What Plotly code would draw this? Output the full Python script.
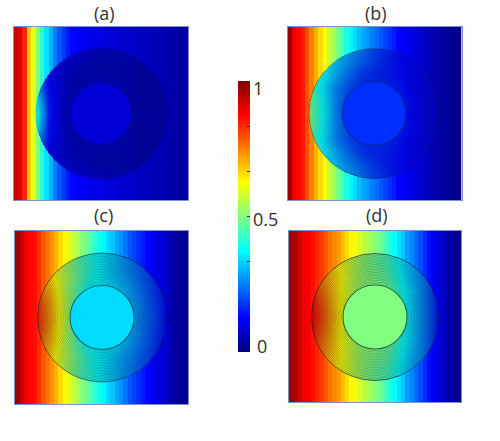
import numpy as np
import plotly.graph_objects as go
from plotly.colors import sample_colorscale

W, H = 500, 441
JET = [[0, "#00007f"], [0.125, "#0000ff"], [0.375, "#00ffff"],
       [0.625, "#ffff00"], [0.875, "#ff0000"], [1, "#7f0000"]]

# Outside field: 40 equal-width vertical bands, left to right
outer_a = [.93,.90,.84,.68,.60,.50,.42,.35,.30,.25,.21,.18,.15,.13,.125,.12,.115,.11,.105,.10,
           .095,.09,.09,.085,.08,.08,.075,.07,.07,.065,.06,.06,.055,.05,.05,.045,.04,.04,.03,.03]
outer_b = [.97,.89,.87,.85,.80,.75,.70,.66,.62,.57,.54,.49,.45,.40,.37,.34,.31,.29,.27,.25,
           .23,.21,.19,.17,.15,.13,.12,.11,.10,.09,.08,.07,.06,.05,.04,.03,.03,.02,.01,.01]
outer_c = [.97,.93,.89,.87,.86,.83,.79,.76,.73,.70,.66,.63,.60,.57,.54,.51,.48,.45,.42,.39,
           .37,.34,.32,.29,.27,.24,.21,.19,.17,.15,.13,.115,.10,.09,.08,.06,.04,.03,.02,.01]
outer_d = [.97,.95,.92,.89,.88,.86,.84,.82,.79,.76,.74,.72,.69,.66,.63,.61,.59,.56,.54,.52,
           .50,.47,.44,.41,.38,.35,.32,.28,.26,.23,.20,.17,.14,.12,.10,.08,.06,.04,.02,.01]

# Ring field: rows from the horizontal centre line outwards, columns left to right across the disc
ring_a = [[.42,.15,.08,.05,.07,.08,.07,.05,.04,.04,.04],
          [.38,.14,.08,.05,.07,.08,.07,.05,.04,.04,.04],
          [.30,.13,.08,.05,.06,.07,.06,.05,.04,.04,.04],
          [.20,.12,.08,.06,.05,.05,.05,.05,.04,.04,.04],
          [.15,.12,.09,.07,.06,.05,.05,.05,.04,.04,.04],
          [.12,.12,.10,.09,.08,.07,.06,.05,.05,.04,.04]]
ring_b = [[.50,.38,.26,.19,.17,.17,.17,.15,.12,.09,.07],
          [.49,.37,.26,.19,.17,.17,.17,.15,.12,.09,.07],
          [.46,.36,.26,.20,.17,.17,.16,.14,.11,.09,.07],
          [.43,.37,.30,.23,.18,.16,.15,.13,.11,.09,.07],
          [.40,.36,.32,.27,.22,.18,.15,.13,.11,.09,.07],
          [.37,.34,.31,.28,.24,.19,.16,.13,.11,.09,.08]]
ring_c = [[.84,.72,.58,.44,.36,.36,.36,.32,.25,.20,.13],
          [.83,.71,.58,.45,.36,.36,.36,.31,.25,.19,.13],
          [.79,.69,.57,.46,.37,.36,.35,.29,.24,.18,.13],
          [.74,.66,.57,.48,.40,.36,.32,.27,.22,.17,.13],
          [.69,.63,.56,.48,.41,.36,.31,.26,.21,.17,.13],
          [.63,.58,.52,.46,.41,.36,.31,.26,.21,.17,.14]]
ring_d = [[.88,.78,.66,.57,.50,.50,.50,.42,.33,.24,.14],
          [.87,.77,.65,.57,.50,.50,.50,.41,.32,.24,.14],
          [.84,.75,.65,.57,.51,.50,.48,.40,.32,.23,.14],
          [.80,.73,.65,.58,.52,.50,.46,.38,.30,.23,.15],
          [.75,.70,.64,.58,.52,.48,.44,.37,.29,.23,.16],
          [.70,.66,.62,.57,.52,.48,.43,.36,.29,.24,.17]]

disk_values = [.085, .17, .34, .50]
panel_labels = ["(a)", "(b)", "(c)", "(d)"]
colorbar_ticks = [0, 1/6, 2/6, 3/6, 4/6, 5/6, 1]

# Layout in page pixels
boxes = [(13.5, 26.5, 188, 200), (287.5, 26.5, 461.5, 200), (15, 231, 188, 404), (289, 231, 461, 402)]
centres = [(101, 113.5, 65.5, 30.5), (374, 113.5, 65, 32), (102, 317.5, 64.5, 32), (375, 317, 63.5, 32)]
label_pos = [(104, 13), (376, 13), (103, 215), (377, 215)]
line_alpha = [.03, .20, .30, .32]
edge_alpha = [.10, .40, .60, .65]
shade_alpha = [.14, .08, .10, .10]
line_counts = [10, 20, 20, 20]

outers = [outer_a, outer_b, outer_c, outer_d]
rings = [ring_a, ring_b, ring_c, ring_d]

fig = go.Figure()
shapes, annos = [], []
for i in range(4):
    x0, y0, x1, y1 = boxes[i]
    cx, cy, R, r = centres[i]
    sfx = "" if i == 0 else str(i + 1)
    xa, ya = "x" + sfx, "y" + sfx
    layout_ax = dict(visible=True, showgrid=False, zeroline=False, showticklabels=False, ticks="",
                     showline=True, linecolor="#7f8fc8", linewidth=1, mirror=True)
    fig.update_layout({
        "xaxis" + sfx: dict(domain=[x0 / W, x1 / W], range=[x0, x1], anchor=ya, **layout_ax),
        "yaxis" + sfx: dict(domain=[1 - y1 / H, 1 - y0 / H], range=[y1, y0], anchor=xa, **layout_ax),
    })
    # ring field below, smoothed by plotly
    half = rings[i]
    z_ring = half[:0:-1] + half
    step = 0.2 * R
    xs = [cx - R + k * step for k in range(11)]
    ys = [cy - R + k * step for k in range(11)]
    fig.add_trace(go.Heatmap(x=xs, y=ys, z=z_ring, coloraxis="coloraxis", zsmooth="best",
                             xaxis=xa, yaxis=ya, hoverinfo="skip"))
    # outside bands on top with the disc left open
    px = np.arange(x0 + 0.25, x1, 0.5)
    py = np.arange(y0 + 0.25, y1, 0.5)
    band = np.minimum(((px - x0) / (x1 - x0) * 40).astype(int), 39)
    row = np.array(outers[i])[band]
    XX, YY = np.meshgrid(px, py)
    z_out = np.tile(row, (len(py), 1))
    z_out[(XX - cx) ** 2 + (YY - cy) ** 2 < R ** 2] = np.nan
    fig.add_trace(go.Heatmap(x=px, y=py, z=z_out, coloraxis="coloraxis", xaxis=xa, yaxis=ya,
                             hoverinfo="skip"))
    # dimmed ring, concentric contour lines, flat disc
    shapes.append(dict(type="circle", xref=xa, yref=ya, x0=cx - R, x1=cx + R, y0=cy - R, y1=cy + R,
                       fillcolor=f"rgba(10,20,40,{shade_alpha[i]})",
                       line=dict(color=f"rgba(10,20,40,{edge_alpha[i]})", width=1)))
    n = line_counts[i]
    for k in range(1, n):
        rr = r + (R - r) * k / n
        shapes.append(dict(type="circle", xref=xa, yref=ya, x0=cx - rr, x1=cx + rr, y0=cy - rr, y1=cy + rr,
                           line=dict(color=f"rgba(10,20,30,{line_alpha[i]})", width=0.7)))
    disk_col = sample_colorscale(JET, [disk_values[i]])[0]
    shapes.append(dict(type="circle", xref=xa, yref=ya, x0=cx - r, x1=cx + r, y0=cy - r, y1=cy + r,
                       fillcolor=disk_col,
                       line=dict(color=f"rgba(10,30,30,{edge_alpha[i]})", width=1.2)))
    lx, ly = label_pos[i]
    annos.append(dict(text=panel_labels[i], x=lx / W, y=1 - ly / H, xref="paper", yref="paper",
                      showarrow=False, xanchor="center", yanchor="middle",
                      font=dict(family="Open Sans", size=18, color="#333333")))

for txt, lx, ly, size in [("1", 258, 88, 18), ("0.5", 265, 219, 18), ("0", 262, 346, 18)]:
    annos.append(dict(text=txt, x=lx / W, y=1 - ly / H, xref="paper", yref="paper", showarrow=False,
                      xanchor="center", yanchor="middle",
                      font=dict(family="Open Sans", size=size, color="#2f2f2f")))

fig.update_layout(
    width=W, height=H, margin=dict(l=0, r=0, t=0, b=0), paper_bgcolor="#fefefc", plot_bgcolor="#fefefc",
    shapes=shapes, annotations=annos, showlegend=False,
    coloraxis=dict(cmin=0, cmax=1, colorscale=JET, colorbar=dict(
        x=237.5 / W, xanchor="left", xpad=0, y=1 - 352 / H, yanchor="bottom", ypad=0,
        lenmode="fraction", len=271 / H, thickness=11.5, thicknessmode="pixels",
        outlinewidth=0, ticks="inside", ticklen=3, tickcolor="#333333", tickvals=colorbar_ticks,
        showticklabels=False)),
)
fig.write_html("out.html", post_script="document.body.style.margin='0';", config=dict(displayModeBar=False))
